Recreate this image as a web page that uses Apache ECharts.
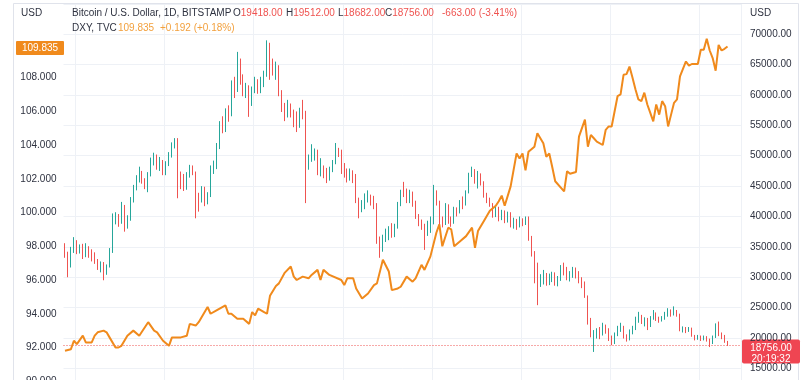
<!DOCTYPE html>
<html><head><meta charset="utf-8">
<script src="https://cdn.jsdelivr.net/npm/echarts@6/dist/echarts.min.js"></script>
<style>
html,body{margin:0;padding:0;background:#fff;overflow:hidden}
#frame{position:relative;width:808px;height:380px;overflow:hidden}
#c{position:absolute;left:0;top:0;width:808px;height:420px}
</style>
</head><body><div id="frame"><div id="c"></div></div>
<script>
// BTC daily candles (BITSTAMP), [open, close, low, high]
const btcCandles = [
[35300,33800,33200,35600],[33800,31800,30000,34200],[31800,34400,31600,35000],[34400,35800,34000,36600],
[35800,34300,33800,36100],[34300,35000,33900,35400],[35000,33500,33000,35500],[33500,34800,33300,35600],
[34800,34000,33200,35100],[34000,33600,32600,34600],[33600,32700,32200,34100],[32700,31800,31200,33000],
[31800,32200,30800,32600],[32200,30800,29500,32500],[30800,31900,30400,32100],[31900,34300,31600,34800],
[34300,39600,34000,40500],[39600,40000,38700,40700],[40000,39000,38300,40400],[39000,41600,38800,42400],
[41600,38400,37500,41900],[38400,39700,38000,40200],[39700,42800,39300,43200],[42800,44600,42300,45200],
[44600,46300,44300,46800],[46300,47100,45600,48200],[47100,45900,45400,47500],[45900,45200,44500,46300],
[45200,46900,44000,47300],[46900,49300,46600,49700],[49300,49800,48400,50500],[49800,48700,47700,50200],
[48700,49000,47500,49800],[49000,47400,46800,49300],[47400,48600,46800,49100],[48600,50000,48300,50600],
[50000,51700,49700,52200],[51700,52600,51200,52900],[52600,46900,43000,52900],[46900,46000,44500,47400],
[46000,44800,44200,47000],[44800,46700,44400,47300],[46700,48100,46400,48500],[48100,47200,46800,48400],
[47200,43000,39700,47400],[43000,42700,40800,43900],[42700,44800,42300,45000],[44800,42800,41700,44900],
[42800,43500,42000,44000],[43500,47600,43200,48400],[47600,48200,47000,49200],[48200,51500,47800,52100],
[51500,55300,51100,55700],[55300,54000,53700,56500],[54000,57400,53900,57800],[57400,56700,55600,58300],
[56700,61500,56500,62400],[61500,60900,59500,63000],[60900,64300,60500,67100],[64300,62200,61700,66000],
[62200,60700,59800,63400],[60700,61300,59500,62000],[61300,58500,56400,61600],[58500,60600,58200,61400],
[60600,62300,60300,63000],[62300,61000,60200,62600],[61000,61800,60300,63000],[61800,63200,61300,64000],
[63200,67500,63000,69000],[67500,64900,62500,68600],[64900,64100,63200,66000],[64100,64600,62500,65500],
[64600,60200,59800,64900],[60200,58000,57200,60800],[58000,56600,55700,58700],[56600,57800,56300,59200],
[57800,57200,56300,58600],[57200,56100,54700,57600],[56100,54800,53900,57300],[54800,57200,54600,57900],
[57200,56900,56000,59200],[56900,49300,42200,57400],[49300,49400,47700,50200],[49400,50500,49000,51900],
[50500,50600,49200,51200],[50600,47600,46800,51000],[47600,48000,46600,49600],[48000,47100,46300,48400],
[47100,46200,45500,48000],[46200,47600,45900,48200],[47600,48900,47300,49300],[48900,50800,48600,52100],
[50800,50400,49800,51300],[50400,47700,47000,51000],[47700,47300,46400,48800],[47300,46500,45600,47900],
[46500,47500,45900,47900],[47500,46400,45500,47600],[46400,42800,42200,47000],[42800,41500,39700,43100],
[41500,41800,40700,42700],[41800,42700,41200,43800],[42700,43100,42300,44300],[43100,42300,41800,43600],
[42300,41600,41200,43400],[41600,36400,35500,42200],[36400,35000,33200,36700],[35000,36300,34200,37000],
[36300,36800,35800,38000],[36800,37900,36100,38400],[37900,37200,36500,38900],[37200,38400,36600,38800],
[38400,41900,38000,42400],[41900,44300,41700,44400],[44300,44000,43200,45700],[44000,42600,42200,44600],
[42600,43800,42200,44400],[43800,42400,41600,44100],[42400,40000,39600,42600],[40000,38900,38400,40400],
[38900,38300,37800,39500],[38300,37000,34500,38800],[37000,38400,36800,39300],[38400,39200,37300,40000],
[39200,44000,38700,45200],[44000,42400,41800,44300],[42400,39200,37800,42600],[39200,38800,38200,40000],
[38800,41800,38600,42200],[41800,39500,38800,42000],[39500,39000,38300,40000],[39000,41000,38800,41600],
[41000,40800,40000,41500],[40800,42300,40500,42700],[42300,42200,41200,43300],[42200,44000,41800,44300],
[44000,46800,43800,47200],[46800,47500,46500,48200],[47500,45900,45400,47800],[45900,46300,44600,47500],
[46300,45500,45100,47100],[45500,43500,43100,45800],[43500,42600,42200,43900],[42600,42000,41600,43100],
[42000,40300,39800,42200],[40300,41400,39900,41600],[41400,39700,39200,41600],[39700,40700,39400,41100],
[40700,39300,38900,41000],[39300,40500,39000,40800],[40500,38700,38200,40700],[38700,39400,38000,39800],
[39400,38400,37800,39600],[38400,39500,38200,40000],[39500,38900,38400,39700],[38900,39800,38600,40000],
[39800,36600,36000,40000],[36600,34000,33400,36800],[34000,31000,29000,34300],[31000,29000,25400,32400],
[29000,29300,28400,30500],[29300,30200,28800,31200],[30200,29100,28600,30700],[29100,29500,28700,30600],
[29500,30400,29200,30900],[30400,29100,28600,30800],[29100,29700,28500,30200],[29700,31700,29400,32000],
[31700,31400,30300,32400],[31400,29900,29500,31700],[29900,30100,29300,31000],[30100,31400,29900,31700],
[31400,30200,29800,31600],[30200,29700,29000,31000],[29700,28600,28200,30000],[28600,26800,26600,29300],
[26800,22600,22200,27000],[22600,20400,20100,23300],[20400,20600,17700,21300],[20600,21200,19900,21600],
[21200,20600,19800,21800],[20600,21700,20400,22500],[21700,21300,20700,22200],[21300,20000,19500,21600],
[20000,19300,18800,20400],[19300,20600,19000,20900],[20600,21500,20300,22000],[21500,21800,21000,22500],
[21800,20200,19900,22000],[20200,19800,19400,20600],[19800,20900,19600,21400],[20900,21600,20600,22000],
[21600,22900,21300,23500],[22900,23400,22500,24300],[23400,22700,22300,23800],[22700,23000,21900,23400],
[23000,22000,21300,23300],[22000,23300,21800,23600],[23300,23900,23000,24600],[23900,23300,22800,24200],
[23300,22900,22500,23500],[22900,23200,22700,23600],[23200,23800,23000,24300],[23800,24400,23500,24900],
[24400,23900,23500,24700],[23900,24300,23700,25200],[24300,23800,23500,24600],[23800,21400,21100,24000],
[21400,21500,20900,21900],[21500,21300,20800,21800],[21300,21500,21000,21800],[21500,20400,20200,21700],
[20400,20000,19600,20500],[20000,20200,19700,20500],[20200,19900,19500,20400],[19900,20100,19600,20400],
[20100,19600,19400,20300],[19600,19300,18500,19900],[19300,20100,19000,20400],[20100,21800,20000,22400],
[21800,20600,20300,22700],[20600,20300,19800,20900],[20300,19419,19200,20500],[19418,18756,18682,19512]
];
// DXY closes as [day index, value]
const dxyPoints = [
[0,91.81],[2,91.9],[3,92.4],[4,92.2],[6,92.7],[7,92.3],[9,92.3],[10,92.7],[11,92.9],[13,93.0],[14,92.9],[15,92.6],
[17,92.0],[18,92.0],[19,92.1],[21,92.7],[23,93.0],[25,92.7],[28,93.5],[30,93.0],[31,92.9],[33,92.4],[35,92.1],[36,92.6],
[39,92.6],[41,92.7],[42,93.4],[44,93.3],[45,93.5],[48,94.4],[49,94.0],[51,94.2],[54,94.5],[55,94.0],[56,94.0],[58,93.7],
[60,93.7],[62,93.4],[63,94.1],[64,93.9],[65,94.3],[67,94.1],[68,94.0],[69,95.06],[71,95.65],[72,95.8],[74,96.44],[76,96.8],
[77,96.2],[78,96.0],[80,96.2],[82,96.1],[83,96.3],[85,96.6],[86,96.0],[87,96.6],[89,96.3],[93,96.0],[94,95.7],[95,96.1],
[97,96.1],[98,95.5],[100,94.9],[102,95.2],[104,95.7],[105,95.8],[107,97.2],[109,96.5],[110,95.4],[112,95.5],[113,95.6],
[115,96.2],[117,95.9],[118,96.1],[120,96.9],[121,96.6],[123,97.4],[125,98.8],[126,99.3],[127,98.0],[129,99.1],[130,99.0],
[131,98.0],[133,98.3],[135,98.6],[137,99.1],[138,97.9],[139,98.9],[141,99.5],[143,100.1],[145,100.4],[146,100.67],
[147,101.0],[148,100.4],[150,101.55],[152,103.5],[153,103.2],[154,103.5],[155,102.5],[156,103.6],[158,103.9],[159,104.7],
[161,104.1],[162,103.3],[163,103.5],[164,102.7],[165,101.85],[168,101.25],[169,102.45],[170,102.3],[172,102.4],[173,104.5],
[175,105.5],[176,103.9],[177,104.6],[178,104.4],[179,104.2],[181,104.0],[182,104.9],[183,105.1],[184,105.1],[186,106.9],
[187,107.0],[188,108.16],[189,108.2],[190,108.65],[191,108.0],[192,107.3],[193,106.7],[194,106.6],[195,107.1],[196,106.4],
[197,105.9],[198,105.4],[199,106.4],[200,105.8],[201,106.6],[202,106.3],[203,105.1],[204,105.8],[205,106.5],[206,106.7],
[207,108.06],[209,108.95],[210,108.7],[211,108.8],[213,108.8],[214,109.64],[215,109.64],[216,110.3],[217,109.6],
[218,109.15],[219,108.4],[220,109.93],[221,109.6],[222,109.7],[223,109.835]
];
const dxyChange = 0.192, dxyChangePct = 0.18;
const btcTitle = 'Bitcoin / U.S. Dollar, 1D, BITSTAMP';
const dxyTitle = 'DXY, TVC';
const lastTime = '20:19:32';
const btcAxis = {min: 10000, max: 75000, step: 5000};
const dxyAxis = {min: 88, max: 112, step: 2};
const slotCount = 228; // daily slots incl. right margin
const categories = Array.from({length: slotCount}, (_, i) => 'D' + (i + 1));

const FONT = "'Liberation Sans', Arial, sans-serif";
const TXT = '#2e3240', UP = '#26a69a', DOWN = '#ef5350', ORANGE = '#f08a1c';
const chart = echarts.init(document.getElementById('c'), null, {renderer: 'canvas'});
const last = btcCandles[btcCandles.length - 1];
const prevClose = btcCandles[btcCandles.length - 2][1];
const lastDxy = dxyPoints[dxyPoints.length - 1][1];

chart.setOption({
  animation: false,
  backgroundColor: '#ffffff',
  textStyle: {fontFamily: FONT},
  grid: [
    {left: 63.5, width: 677.4, top: 3.9, height: 394.8},
    {left: 63.5, width: 677.4, top: 10, height: 406.1}
  ],
  xAxis: [
    {type: 'category', gridIndex: 0, data: categories, boundaryGap: true,
     axisLine: {show: false}, axisTick: {show: false}, axisLabel: {show: false},
     splitLine: {show: true, interval: (i) => i % 30 === 4, lineStyle: {color: '#eef1f6', width: 1}}},
    {type: 'category', gridIndex: 1, data: categories, boundaryGap: true, show: false}
  ],
  yAxis: [
    {type: 'value', gridIndex: 0, position: 'right', min: btcAxis.min, max: btcAxis.max, interval: btcAxis.step,
     axisLine: {show: false}, axisTick: {show: false},
     splitLine: {lineStyle: {color: '#eef1f6', width: 1}},
     axisLabel: {margin: 9, color: TXT, fontSize: 10, fontFamily: FONT,
       formatter: v => (v >= 75000 || v <= 10000) ? '' : v.toFixed(2)}},
    {type: 'value', gridIndex: 1, position: 'left', min: dxyAxis.min, max: dxyAxis.max, interval: dxyAxis.step,
     axisLine: {show: false}, axisTick: {show: false}, splitLine: {show: false},
     axisLabel: {margin: 7, color: TXT, fontSize: 10, fontFamily: FONT,
       formatter: v => v >= 110 ? '' : v.toFixed(3)}}
  ],
  series: [
    {type: 'candlestick', xAxisIndex: 0, yAxisIndex: 0, data: btcCandles, barWidth: 1.3,
     itemStyle: {color: UP, color0: DOWN, borderColor: UP, borderColor0: DOWN, borderWidth: 1},
     markLine: {silent: true, symbol: ['none', 'none'], label: {show: false},
       lineStyle: {color: DOWN, type: [1, 2], width: 1}, data: [{yAxis: last[1]}]}},
    {type: 'line', xAxisIndex: 1, yAxisIndex: 1, data: dxyPoints, showSymbol: false, z: 5,
     lineStyle: {color: ORANGE, width: 2}, itemStyle: {color: ORANGE}}
  ]
});

const yBtc = chart.convertToPixel({yAxisIndex: 0}, last[1]);
const yDxy = chart.convertToPixel({yAxisIndex: 1}, lastDxy);
const chg = last[1] - prevClose;
const chgPct = chg / prevClose * 100;
const sgn = v => (v > 0 ? '+' : '');
const f10 = {fontSize: 10, fontFamily: FONT};
function txt(x, y, text, fill, extra) {
  return Object.assign({type: 'text', x: x, y: y, silent: true,
    style: Object.assign({text: text, fill: fill, verticalAlign: 'middle', font: '10px ' + FONT}, extra || {})});
}
function ohlc(x, k, v) {
  return {type: 'text', x: x, y: 13.5, silent: true,
    style: {text: '{k|' + k + '}{v|' + v.toFixed(2) + '}', verticalAlign: 'middle', font: '10px ' + FONT,
      rich: {k: Object.assign({fill: TXT}, f10), v: Object.assign({fill: DOWN}, f10)}}};
}
chart.setOption({
  graphic: [
    {type: 'rect', silent: true, shape: {x: 13.5, y: 3.5, width: 785, height: 410},
     style: {fill: 'none', stroke: '#e0e3eb', lineWidth: 1}},
    txt(21, 13.5, 'USD', TXT),
    txt(750, 13.5, 'USD', TXT),
    txt(72, 13.5, btcTitle, TXT),
    ohlc(233, 'O', last[0]), ohlc(286, 'H', last[3]), ohlc(338, 'L', last[2]), ohlc(385, 'C', last[1]),
    txt(442, 13.5, sgn(chg) + chg.toFixed(2) + ' (' + sgn(chgPct) + chgPct.toFixed(2) + '%)', DOWN),
    txt(72, 28, dxyTitle, TXT),
    txt(118, 28, lastDxy.toFixed(3), '#f2a03d'),
    txt(160, 28, sgn(dxyChange) + dxyChange.toFixed(3) + ' (' + sgn(dxyChangePct) + dxyChangePct.toFixed(2) + '%)', '#f2a03d'),
    {type: 'rect', silent: true, shape: {x: 16, y: yDxy - 5.5, width: 48, height: 14, r: 1}, style: {fill: ORANGE}},
    txt(40, yDxy + 1.5, lastDxy.toFixed(3), '#ffffff', {align: 'center'}),
    {type: 'rect', silent: true, shape: {x: 742, y: yBtc - 6, width: 58, height: 24, r: 2}, style: {fill: '#ef4552'}},
    txt(771, yBtc + 2.5, last[1].toFixed(2), '#ffffff', {align: 'center'}),
    txt(771, yBtc + 13.5, lastTime, '#ffffff', {align: 'center'})
  ]
});
</script></body></html>
